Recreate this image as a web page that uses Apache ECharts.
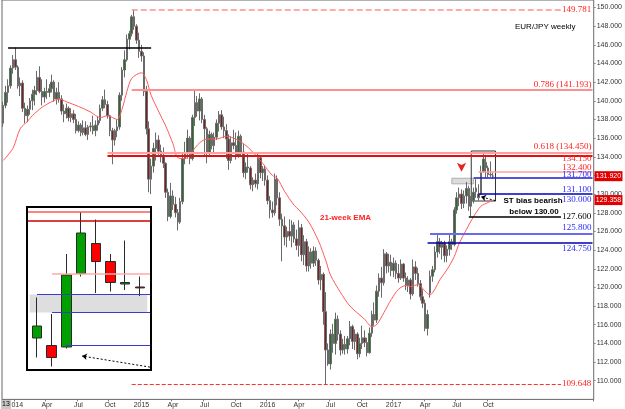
<!DOCTYPE html>
<html>
<head>
<meta charset="utf-8">
<script src="https://cdn.jsdelivr.net/npm/echarts@6/dist/echarts.min.js"></script>
<style>
html, body { margin: 0; padding: 0; background: #fff; }
#chart { width: 625px; height: 409px; }
</style>
</head>
<body>
<div id="chart"></div>
<script>
// EUR/JPY weekly bars, first bar = week of 25 Nov 2013
var opens = [
  137.6,139.5,140.9,141.6,143.5,144.4,143.6,141.6,141.9,139.2,
  138.4,139.1,140.0,140.7,141.1,142.5,141.0,140.4,141.0,140.9,
  141.3,142.0,140.2,140.9,140.2,138.9,138.6,139.2,138.2,138.6,
  138.0,136.8,137.4,136.6,137.1,136.4,137.2,137.3,136.8,137.4,
  137.9,139.2,140.1,139.6,138.4,136.8,135.8,136.8,137.2,140.6,
  143.3,144.4,146.6,147.2,149.0,148.0,146.5,145.3,144.8,141.0,
  137.0,131.6,133.0,134.9,135.8,134.6,134.0,133.3,130.2,127.6,
  129.8,128.9,128.0,127.0,129.2,133.8,134.4,136.0,133.8,138.2,
  139.8,138.9,140.2,138.0,137.0,134.4,136.4,135.2,136.1,137.6,
  138.5,137.2,136.8,135.9,133.6,135.5,135.2,134.2,136.2,134.5,
  132.3,132.9,132.8,131.0,131.5,131.1,133.9,132.3,132.7,131.5,
  129.3,128.3,128.0,131.6,129.6,127.3,126.6,125.4,126.0,125.5,
  126.7,125.2,124.5,126.4,123.5,124.9,122.3,123.8,122.6,123.9,
  122.9,120.8,121.4,117.4,113.3,111.8,115.0,114.0,116.6,115.0,
  113.3,113.9,113.4,114.5,115.8,114.2,115.0,112.9,114.0,114.6,
  114.1,113.0,115.1,117.1,116.5,119.6,121.0,120.5,123.6,122.3,
  122.7,121.8,122.6,121.5,121.0,122.5,121.0,120.2,120.8,119.3,
  122.2,121.5,120.4,119.0,118.3,115.6,119.4,121.2,121.9,123.8,
  124.9,124.3,124.8,123.4,124.1,124.9,124.6,128.3,129.6,130.0,
  129.0,129.8,130.6,128.7,129.3,130.25,130.0,129.95,132.4,133.4,
  132.8,132.05,131.95
];
var highs = [
  139.9,141.6,142.3,143.8,144.9,145.7,143.8,142.5,142.2,139.8,
  139.5,140.3,141.2,141.6,143.2,143.7,142.3,141.4,142.3,141.8,
  142.8,142.2,141.4,142.0,140.6,139.6,139.7,139.4,139.2,139.0,
  138.6,137.8,137.6,137.9,137.8,137.4,137.7,138.4,137.9,138.3,
  139.6,140.5,141.2,140.0,138.5,137.1,137.0,138.0,140.9,143.6,
  145.4,147.1,147.5,149.2,149.78,148.2,147.3,146.0,145.2,141.6,
  137.8,133.8,135.5,136.6,136.3,135.3,135.0,133.4,130.6,131.2,
  130.4,129.7,128.4,129.6,134.5,135.6,136.9,136.2,138.5,141.05,
  140.5,140.8,140.4,138.5,137.2,136.8,136.6,136.6,138.0,138.9,
  139.0,138.3,137.5,136.4,136.2,136.9,136.6,136.8,136.4,135.4,
  133.4,134.3,133.0,131.8,132.2,134.5,134.1,133.0,133.0,132.0,
  129.8,129.2,132.2,132.0,130.2,127.9,127.6,126.5,127.3,127.2,
  127.0,126.2,127.2,126.8,125.6,125.2,124.4,124.2,124.4,124.3,
  123.1,122.3,121.6,119.5,114.0,115.5,116.1,117.3,117.0,115.4,
  114.5,114.8,114.8,116.4,116.0,115.5,115.2,114.6,115.9,115.4,
  114.6,115.7,117.5,118.4,120.2,121.5,122.2,124.1,123.8,123.6,
  123.5,123.2,122.9,122.5,123.0,122.6,121.6,121.2,121.0,123.0,
  122.8,122.1,120.8,119.8,118.7,117.6,121.8,122.3,124.4,125.8,
  125.3,125.0,125.0,124.5,125.8,125.2,128.6,130.2,130.7,130.5,
  130.4,131.3,130.9,129.8,130.7,131.6,131.05,133.05,134.45,134.2,
  133.05,133.5,132.3
];
var lows = [
  137.2,139.2,139.8,141.3,142.9,143.3,141.3,140.5,138.8,137.6,
  137.7,138.5,139.0,139.5,140.6,140.8,139.5,139.8,140.2,140.4,
  140.9,139.9,139.6,139.8,138.5,137.7,138.1,137.8,137.7,137.6,
  136.5,136.6,136.2,136.3,136.2,135.8,136.7,136.4,136.2,136.8,
  137.6,138.9,139.2,138.1,136.2,133.2,135.2,136.1,136.9,140.0,
  142.5,144.2,145.5,146.9,147.6,146.1,144.6,144.2,140.5,136.4,
  130.2,130.0,132.3,133.6,134.2,133.4,132.8,129.6,127.1,127.4,
  128.3,127.5,126.1,126.8,128.9,133.2,133.8,133.2,133.6,137.3,
  138.3,137.9,137.6,134.0,133.3,134.2,134.8,134.4,135.8,136.7,
  136.9,136.0,133.8,132.6,133.3,134.8,133.7,133.9,134.0,131.8,
  131.6,132.3,130.5,130.3,130.7,130.5,131.7,131.4,130.9,128.9,
  127.4,127.5,127.7,128.8,126.6,122.8,124.5,124.3,125.0,124.3,
  124.8,124.0,123.3,122.8,122.4,121.7,121.7,122.0,122.2,122.3,
  120.3,119.7,116.0,109.65,111.6,111.2,113.0,112.8,114.3,112.7,
  112.9,112.8,112.9,113.8,113.4,113.3,112.3,112.5,113.4,113.6,
  112.6,112.9,114.7,115.9,116.2,119.0,118.9,120.2,121.5,121.6,
  121.2,121.1,120.9,120.5,120.8,120.6,119.7,119.5,118.7,119.1,
  120.8,120.1,118.6,117.8,115.3,114.85,118.9,120.6,121.6,123.2,
  123.6,123.0,122.7,122.7,123.4,124.0,124.4,127.9,128.7,128.4,
  128.5,129.0,128.2,127.6,129.0,129.6,129.3,129.9,132.3,131.75,
  131.8,131.85,131.65
];
var closes = [
  139.5,140.9,141.6,143.5,144.4,143.6,141.6,141.9,139.2,138.4,
  139.1,140.0,140.7,141.1,142.5,141.0,140.4,141.0,140.9,141.3,
  142.0,140.2,140.9,140.2,138.9,138.6,139.2,138.2,138.6,138.0,
  136.8,137.4,136.6,137.1,136.4,137.2,137.3,136.8,137.4,137.9,
  139.2,140.1,139.6,138.4,136.8,135.8,136.8,137.2,140.6,143.3,
  144.4,146.6,147.2,149.0,148.0,146.5,145.3,144.8,141.0,137.0,
  131.6,133.0,134.9,135.8,134.6,134.0,133.3,130.2,127.6,129.8,
  128.9,128.0,127.0,129.2,133.8,134.4,136.0,133.8,138.2,139.8,
  138.9,140.2,138.0,137.0,134.4,136.4,135.2,136.1,137.6,138.5,
  137.2,136.8,135.9,133.6,135.5,135.2,134.2,136.2,134.5,132.3,
  132.9,132.8,131.0,131.5,131.1,133.9,132.3,132.7,131.5,129.3,
  128.3,128.0,131.6,129.6,127.3,126.6,125.4,126.0,125.5,126.7,
  125.2,124.5,126.4,123.5,124.9,122.3,123.8,122.6,123.9,122.9,
  120.8,121.4,117.4,113.3,111.8,115.0,114.0,116.6,115.0,113.3,
  113.9,113.4,114.5,115.8,114.2,115.0,112.9,114.0,114.6,114.1,
  113.0,115.1,117.1,116.5,119.6,121.0,120.5,123.6,122.3,122.7,
  121.8,122.6,121.5,121.0,122.5,121.0,120.2,120.8,119.3,122.2,
  121.5,120.4,119.0,118.3,115.6,117.1,121.2,121.9,123.8,124.9,
  124.3,124.8,123.4,124.1,124.9,124.6,128.3,129.6,130.0,129.0,
  129.8,130.6,128.7,129.3,130.2,130.65,129.6,132.35,133.75,132.8,
  132.1,132.1,131.92
];
// 21-week EMA: [week index, value]
var ema = [
  [0,133.6],[4,134.9],[7,137.0],[10,137.8],[12,138.4],[16,139.3],[20,139.9],[23,140.2],
  [26,139.9],[31,139.4],[36,138.8],[40,138.2],[43,138.4],[47,138.0],[49,139.1],[51,141.0],
  [53,142.4],[57,143.0],[59,142.3],[61,140.6],[64,138.9],[67,137.3],[70,135.4],[72,133.9],
  [75,133.8],[78,134.6],[81,135.5],[84,135.9],[88,135.9],[92,136.2],[96,135.9],[98,135.6],
  [101,135.0],[104,134.2],[107,133.3],[111,132.0],[113,131.7],[116,130.3],[120,128.8],
  [122,128.3],[126,127.0],[130,125.0],[133,122.9],[135,121.3],[139,119.5],[143,118.0],
  [149,116.6],[152,115.8],[154,116.0],[157,117.3],[160,118.7],[163,119.8],[166,120.2],
  [168,120.1],[171,120.3],[174,119.6],[176,119.2],[178,119.8],[180,120.8],[183,121.9],
  [186,123.3],[188,124.7],[191,126.2],[194,127.6],[197,128.7],[200,129.1],[202,129.358]
];
// drawn price levels and their captions
var levelVals = [145.7, 149.781, 141.193, 134.45, 134.15, 132.4, 131.7, 131.1, 130.0, 127.6, 125.8, 124.75, 109.648];
var levelNames = ['', '149.781', '0.786 (141.193)', '0.618 (134.450)', '134.150', '132.400', '131.700', '131.100', '130.000', '127.600', '125.800', '124.750', '109.648'];
var zoneTop = 131.7, zoneBottom = 131.1;
var quarterNames = ['', 'Apr', 'Jul', 'Oct'];
var nWeeks = 244;

// week categories and quarter labels
var weeks = [], weekLabel = [];
var t0 = Date.UTC(2013, 10, 25);
for (var i = 0; i < nWeeks; i++) {
  var lab = '';
  for (var k = 0; k < 7; k++) {
    var d = new Date(t0 + (i * 7 + k) * 864e5);
    if (d.getUTCDate() === 1 && d.getUTCMonth() % 3 === 0) {
      lab = d.getUTCMonth() === 0 ? String(d.getUTCFullYear()) : quarterNames[d.getUTCMonth() / 3];
    }
  }
  weeks.push(new Date(t0 + i * 7 * 864e5).toISOString().slice(0, 10));
  weekLabel.push(lab);
}

var candles = closes.map(function (c, i) { return [opens[i], c, lows[i], highs[i]]; });
var last = candles.length - 1;
var inset = candles.slice(last - 7);
var insetCats = weeks.slice(last - 7, last + 1);

// line placement / styling for each level (same order as levelVals)
var lv = [
  { from: 2, to: 61, color: '#000', width: 1.5 },
  { from: 53, to: 230, color: '#ff9090', width: 1.5, type: 'dashed', pos: 'end', tc: '#ff2020' },
  { from: 53, to: 243, color: '#ff9090', width: 2, pos: 'insideEndTop', tc: '#ff2020' },
  { from: 43, to: 243, color: '#ffa0a0', width: 2, pos: 'insideEndTop', tc: '#ff2020' },
  { from: 43, to: 243, color: '#e01010', width: 2, pos: 'insideEndBottom', tc: '#ff2020', dy: -2 },
  { from: 196, to: 243, color: '#ffa0a0', width: 1.5, pos: 'insideEndTop', tc: '#ff2020', dy: 1.5 },
  { from: 194, to: 243, color: '#1a1ad0', width: 1.5, pos: 'insideEndTop', tc: '#2a2aff', dy: 2 },
  { from: 194, to: 243, color: 'rgba(0,0,0,0)', width: 1, pos: 'insideEndBottom', tc: '#2a2aff' },
  { from: 196, to: 243, color: '#0000c0', width: 1.5, pos: 'insideEndBottom', tc: '#2a2aff' },
  { from: 192, to: 230, color: '#000', width: 1.5, pos: 'end', tc: '#000' },
  { from: 176, to: 243, color: '#6a6af0', width: 2, pos: 'insideEndTop', tc: '#2a2aff' },
  { from: 175, to: 243, color: '#0000b0', width: 1.5, pos: 'insideEndBottom', tc: '#2a2aff' },
  { from: 53, to: 230, color: '#ff3030', width: 1, type: 'dashed', pos: 'end', tc: '#ff2020' }
];
var levelLines = levelVals.map(function (v, i) {
  var s = lv[i];
  return [{
    xAxis: s.from, yAxis: v,
    lineStyle: { color: s.color, width: s.width, type: s.type || 'solid' },
    label: {
      show: !!s.pos, position: s.pos || 'end', formatter: levelNames[i], color: s.tc,
      fontFamily: 'Liberation Serif', fontSize: 9, distance: 1, offset: [0, s.dy || 0]
    }
  }, { xAxis: s.to, yAxis: v }];
});
levelLines.push([
  { xAxis: 203, yAxis: 129.3, symbol: 'none', lineStyle: { color: '#000', width: 1, type: [2, 2] }, label: { show: false } },
  { xAxis: 197, yAxis: 129.72, symbol: 'arrow', symbolSize: 5 }
]);

function lvIdx(v) { return levelVals.indexOf(v); }
function insetLine(v, x0, color, w) {
  return [{ x: x0, yAxis: v, lineStyle: { color: color, width: w, type: 'solid' }, label: { show: false } }, { x: 151, yAxis: v }];
}
var insetLines = [
  insetLine(levelVals[lvIdx(134.45)], 28, '#ff5a5a', 1.5),
  insetLine(levelVals[lvIdx(134.15)], 28, '#cc0000', 1.5),
  insetLine(levelVals[lvIdx(132.4)], 52, '#ffaaaa', 1.5),
  insetLine(levelVals[lvIdx(131.7)], 37, '#3a3acc', 1),
  insetLine(levelVals[lvIdx(131.1)], 52, '#3a3acc', 1),
  insetLine(levelVals[lvIdx(130.0)], 66, '#3a3acc', 1),
  [{ x: 150, yAxis: 129.28, symbol: 'none', lineStyle: { color: '#000', width: 1, type: [2, 2] }, label: { show: false } },
   { x: 82, yAxis: 129.65, symbol: 'arrow', symbolSize: 5 }]
];

// only label the quarters that have bars
function showLabel(idx) { return idx <= last + 2 && weekLabel[idx] !== ''; }

var chart = echarts.init(document.getElementById('chart'), null, { renderer: 'canvas' });
var option = {
  animation: false,
  backgroundColor: '#fff',
  grid: [
    { left: 2, right: 28, top: 0, bottom: 9.6, show: true, borderColor: '#666', borderWidth: 1 },
    { left: 29.65, top: 207.5, width: 117.6, height: 162 }
  ],
  xAxis: [{
    type: 'category', data: weeks, gridIndex: 0, boundaryGap: true,
    axisLine: { show: true, lineStyle: { color: '#777' } },
    axisTick: { show: true, interval: showLabel, length: 2, lineStyle: { color: '#777' } },
    axisLabel: {
      interval: showLabel, margin: 2, fontSize: 7, color: '#333', fontFamily: 'Liberation Sans',
      formatter: function (v, idx) { return weekLabel[idx]; }
    },
    splitLine: { show: false }
  }, {
    type: 'category', data: insetCats, gridIndex: 1, show: false
  }],
  yAxis: [{
    type: 'value', gridIndex: 0, position: 'right', min: 108, max: 150.8, interval: 2,
    axisLine: { show: true, lineStyle: { color: '#888' } },
    axisTick: { show: true, length: 2, lineStyle: { color: '#888' } },
    axisLabel: {
      margin: 3, fontSize: 7, color: '#333', fontFamily: 'Liberation Sans',
      showMinLabel: false, showMaxLabel: false,
      formatter: function (v) { return v.toFixed(3); }
    },
    splitLine: { show: false }
  }, {
    type: 'value', gridIndex: 1, min: 129.2, max: 134.6, show: false
  }],
  series: [{
    type: 'candlestick', xAxisIndex: 0, yAxisIndex: 0, data: candles, barWidth: 2,
    itemStyle: { color: '#2b6b2b', color0: '#7b1f1f', borderColor: '#6a6a6a', borderColor0: '#6a6a6a', borderWidth: 1 },
    markLine: { silent: true, symbol: ['none', 'none'], data: levelLines },
    markArea: {
      silent: true,
      data: [
        [{ xAxis: 185, yAxis: zoneTop, itemStyle: { color: '#dcdcdc', borderColor: '#b0b0b0', borderWidth: 1 } },
         { xAxis: 194, yAxis: zoneBottom }],
        [{ xAxis: 193, yAxis: 134.62, itemStyle: { color: 'rgba(0,0,0,0)', borderColor: '#333', borderWidth: 1 } },
         { xAxis: 203, yAxis: 129.26 }]
      ]
    },
    markPoint: {
      silent: true,
      data: [
        { coord: [189, 132.4], symbol: 'arrow', symbolRotate: 180, symbolSize: [7, 9],
          itemStyle: { color: '#e82020' }, label: { show: false } },
        { coord: [nWeeks - 1, closes[last]], symbol: 'rect', symbolSize: [28, 10], symbolOffset: [16, 0],
          itemStyle: { color: '#e00000' },
          label: { show: true, formatter: closes[last].toFixed(3), color: '#fff', fontSize: 7, fontFamily: 'Liberation Sans' } },
        { coord: [nWeeks - 1, ema[ema.length - 1][1]], symbol: 'rect', symbolSize: [28, 10], symbolOffset: [16, 0],
          itemStyle: { color: '#e00000' },
          label: { show: true, formatter: ema[ema.length - 1][1].toFixed(3), color: '#fff', fontSize: 7, fontFamily: 'Liberation Sans' } }
      ]
    }
  }, {
    type: 'line', xAxisIndex: 0, yAxisIndex: 0, data: ema, smooth: 0.3, showSymbol: false,
    lineStyle: { color: '#ff5a5a', width: 1 }, silent: true
  }, {
    type: 'candlestick', xAxisIndex: 1, yAxisIndex: 1, data: inset, barWidth: 10, z: 10,
    itemStyle: { color: '#00a000', color0: '#ff0000', borderColor: '#2a2a2a', borderColor0: '#2a2a2a', borderWidth: 1 },
    markLine: { silent: true, z: 12, symbol: ['none', 'none'], data: insetLines },
    markArea: {
      silent: true, z: 8,
      data: [[{ yAxis: zoneTop, itemStyle: { color: '#dedede' } }, { yAxis: zoneBottom }]]
    }
  }],
  graphic: [
    { type: 'rect', z: 5, shape: { x: 27, y: 207, width: 124, height: 163 }, style: { fill: '#fff', stroke: null } },
    { type: 'rect', z: 30, shape: { x: 27, y: 207, width: 124, height: 163 }, style: { fill: null, stroke: '#000', lineWidth: 2 } },
    { type: 'text', z: 30, x: 515, y: 23, style: { text: 'EUR/JPY weekly', fill: '#000', font: '8px "Liberation Sans"' } },
    { type: 'text', z: 30, x: 320, y: 214, style: { text: '21-week EMA', fill: '#ff2020', font: 'bold 8px "Liberation Sans"' } },
    { type: 'text', z: 30, x: 533, y: 197, style: { text: 'ST bias bearish', fill: '#000', font: 'bold 8px "Liberation Sans"', textAlign: 'center' } },
    { type: 'text', z: 30, x: 534, y: 208, style: { text: 'below 130.00', fill: '#000', font: 'bold 8px "Liberation Sans"', textAlign: 'center' } },
    { type: 'rect', z: 30, shape: { x: 1, y: 400, width: 10, height: 9 }, style: { fill: '#c8c8c8' } },
    { type: 'text', z: 31, x: 2, y: 401, style: { text: '13', fill: '#000', font: '7px "Liberation Sans"' } }
  ]
};
chart.setOption(option);
</script>
</body>
</html>
